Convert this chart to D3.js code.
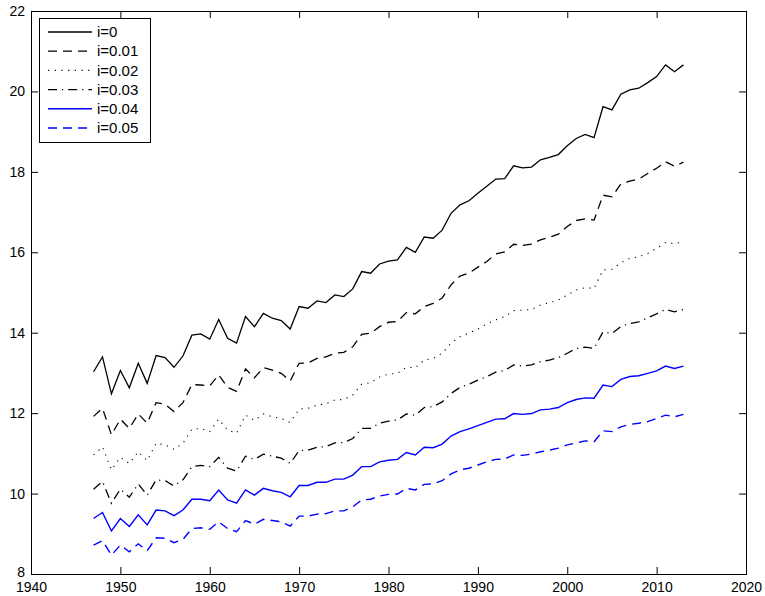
<!DOCTYPE html>
<html>
<head>
<meta charset="utf-8">
<script src="https://cdn.jsdelivr.net/npm/d3@7/dist/d3.min.js"></script>
<style>
  html, body { margin: 0; padding: 0; background: #fff; }
  svg { display: block; }
  text { font-family: "Liberation Sans", Arial, Helvetica, sans-serif; }
</style>
</head>
<body>
<svg id="chart" width="765" height="596"></svg>
<script>
const years = d3.range(1947, 2014);
const seriesNames = ["i=0", "i=0.01", "i=0.02", "i=0.03", "i=0.04", "i=0.05"];
const xTicks = [1940, 1950, 1960, 1970, 1980, 1990, 2000, 2010, 2020];
const yTicks = [8, 10, 12, 14, 16, 18, 20, 22];

const s0 = [13.03,13.40,12.48,13.06,12.63,13.24,12.74,13.43,13.38,13.14,13.42,13.94,13.97,13.84,14.33,13.86,13.74,14.40,14.15,14.48,14.36,14.30,14.09,14.65,14.61,14.79,14.75,14.94,14.90,15.09,15.52,15.48,15.71,15.78,15.81,16.12,16.00,16.38,16.35,16.55,16.97,17.18,17.28,17.47,17.64,17.82,17.83,18.15,18.10,18.12,18.30,18.36,18.43,18.65,18.83,18.93,18.85,19.62,19.54,19.93,20.04,20.08,20.22,20.37,20.66,20.49,20.66];
const s1 = [11.92,12.12,11.46,11.85,11.62,11.98,11.75,12.26,12.22,12.04,12.26,12.71,12.70,12.68,12.95,12.64,12.54,13.10,12.88,13.13,13.07,12.99,12.80,13.24,13.25,13.36,13.40,13.49,13.51,13.65,13.96,13.99,14.15,14.26,14.28,14.50,14.47,14.65,14.73,14.86,15.19,15.41,15.48,15.63,15.77,15.96,16.01,16.20,16.17,16.20,16.31,16.37,16.45,16.64,16.79,16.83,16.80,17.42,17.38,17.70,17.77,17.82,17.96,18.09,18.25,18.14,18.24];
const s2 = [10.96,11.16,10.59,10.90,10.75,11.04,10.82,11.25,11.21,11.10,11.25,11.60,11.62,11.54,11.85,11.58,11.50,11.95,11.82,11.98,11.91,11.87,11.77,12.10,12.12,12.20,12.23,12.33,12.34,12.45,12.72,12.76,12.90,12.97,12.99,13.14,13.13,13.32,13.36,13.49,13.74,13.90,13.99,14.09,14.22,14.32,14.40,14.55,14.56,14.58,14.69,14.75,14.81,14.94,15.06,15.12,15.10,15.56,15.58,15.74,15.85,15.89,15.97,16.10,16.24,16.21,16.26];
const s3 = [10.11,10.30,9.76,10.11,9.91,10.24,9.96,10.34,10.32,10.19,10.34,10.67,10.70,10.67,10.90,10.63,10.56,10.93,10.85,10.98,10.93,10.88,10.75,11.07,11.08,11.15,11.17,11.26,11.27,11.37,11.62,11.62,11.75,11.80,11.83,11.98,11.95,12.14,12.16,12.28,12.49,12.64,12.72,12.82,12.91,13.02,13.06,13.20,13.17,13.20,13.28,13.32,13.38,13.49,13.61,13.64,13.61,14.02,13.98,14.15,14.23,14.27,14.37,14.47,14.58,14.52,14.58];
const s4 = [9.38,9.53,9.07,9.38,9.18,9.47,9.22,9.59,9.57,9.45,9.59,9.86,9.86,9.82,10.09,9.84,9.76,10.09,9.96,10.13,10.07,10.03,9.92,10.20,10.20,10.28,10.28,10.36,10.36,10.46,10.67,10.67,10.79,10.83,10.85,11.02,10.96,11.15,11.14,11.23,11.43,11.54,11.61,11.69,11.77,11.85,11.86,11.99,11.97,11.99,12.08,12.10,12.14,12.26,12.34,12.38,12.37,12.70,12.66,12.84,12.91,12.93,12.99,13.05,13.17,13.11,13.17];
const s5 = [8.72,8.83,8.47,8.72,8.55,8.75,8.58,8.90,8.89,8.78,8.86,9.13,9.15,9.11,9.30,9.13,9.05,9.33,9.24,9.36,9.33,9.30,9.19,9.44,9.44,9.49,9.50,9.57,9.57,9.67,9.84,9.86,9.94,9.98,9.99,10.13,10.09,10.23,10.24,10.32,10.49,10.59,10.63,10.71,10.79,10.85,10.86,10.96,10.95,10.98,11.04,11.08,11.13,11.21,11.26,11.31,11.29,11.56,11.54,11.66,11.72,11.75,11.79,11.87,11.95,11.91,11.97];

const allSeries = [s0, s1, s2, s3, s4, s5];
const styles = [
  { color: "#000000", dash: null, width: 1.3 },
  { color: "#000000", dash: "9,6", width: 1.3 },
  { color: "#000000", dash: "1.2,5.5", width: 1.1 },
  { color: "#000000", dash: "9,5,1.2,5", width: 1.3 },
  { color: "#0000ff", dash: null, width: 1.4 },
  { color: "#0000ff", dash: "9,6", width: 1.4 }
];

const L = 31, R = 746, T = 11, B = 574;
const svg = d3.select("#chart");
const x = d3.scaleLinear().domain([1940, 2020]).range([L, R]);
const y = d3.scaleLinear().domain([8, 22]).range([B, T]);

const fontSize = 14;

// axes with inward ticks
const gB = svg.append("g").attr("transform", `translate(0,${B})`)
  .call(d3.axisBottom(x).tickValues(xTicks).tickFormat(d3.format("d")).tickSizeInner(-7).tickSizeOuter(0).tickPadding(8));
const gT = svg.append("g").attr("transform", `translate(0,${T})`)
  .call(d3.axisTop(x).tickValues(xTicks).tickFormat("").tickSizeInner(-7).tickSizeOuter(0));
const gL = svg.append("g").attr("transform", `translate(${L},0)`)
  .call(d3.axisLeft(y).tickValues(yTicks).tickFormat(d3.format("d")).tickSizeInner(-7).tickSizeOuter(0).tickPadding(6));
const gR = svg.append("g").attr("transform", `translate(${R},0)`)
  .call(d3.axisRight(y).tickValues(yTicks).tickFormat("").tickSizeInner(-7).tickSizeOuter(0));

[gB, gT, gL, gR].forEach(g => {
  g.select(".domain").remove();
  g.selectAll("line").attr("stroke", "#000").attr("stroke-width", 1);
  g.selectAll("text").attr("fill", "#000").style("font-size", fontSize + "px")
    .style("font-family", '"Liberation Sans", Arial, sans-serif');
});
// lowest y label sits just above the corner year label, as in the reference
gL.selectAll(".tick text").filter(d => d === 8).attr("dy", "0.2em");

// lines
const line = d3.line().x((d, i) => x(years[i])).y(d => y(d));
allSeries.forEach((s, k) => {
  svg.append("path")
    .datum(s)
    .attr("d", line)
    .attr("fill", "none")
    .attr("stroke", styles[k].color)
    .attr("stroke-width", styles[k].width)
    .attr("stroke-dasharray", styles[k].dash)
    .attr("stroke-linejoin", "miter");
});

// box
svg.append("rect")
  .attr("x", L + 0.5).attr("y", T + 0.5)
  .attr("width", R - L).attr("height", B - T)
  .attr("fill", "none").attr("stroke", "#000").attr("stroke-width", 1);

// legend
const lg = svg.append("g");
lg.append("rect")
  .attr("x", 39.5).attr("y", 18.5).attr("width", 111).attr("height", 124)
  .attr("fill", "#fff").attr("stroke", "#000").attr("stroke-width", 1);
seriesNames.forEach((name, k) => {
  const yy = 32 + k * 19.2;
  lg.append("line")
    .attr("x1", 48).attr("x2", 92).attr("y1", yy).attr("y2", yy)
    .attr("stroke", styles[k].color)
    .attr("stroke-width", styles[k].width)
    .attr("stroke-dasharray", styles[k].dash);
  lg.append("text")
    .attr("x", 97).attr("y", yy).attr("dy", "0.35em")
    .style("font-size", "15px")
    .attr("fill", "#000")
    .text(name);
});
</script>
</body>
</html>
